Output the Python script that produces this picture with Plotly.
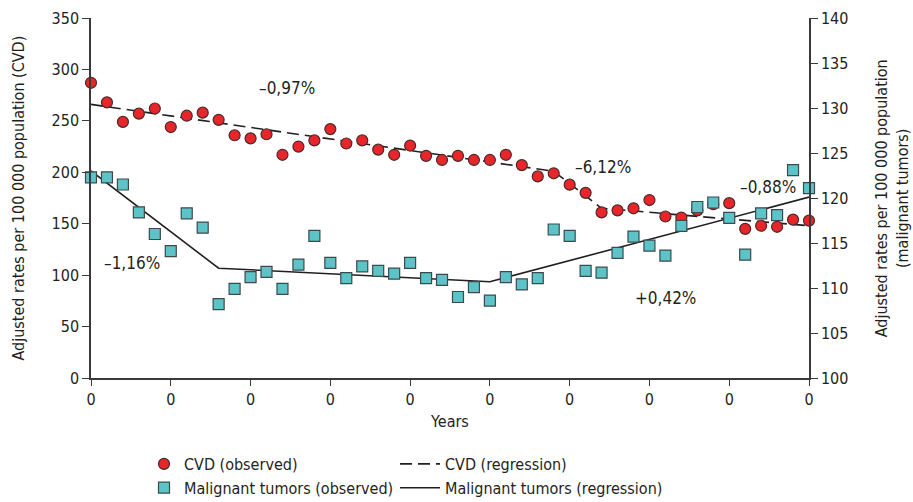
import plotly.graph_objects as go

years = list(range(46))
tick_vals = [0, 5, 10, 15, 20, 25, 30, 35, 40, 45]
tick_text = ["0"] * 10

cvd_obs = [287, 268, 249, 257, 262, 244, 255, 258, 251, 236,
           233, 237, 217, 225, 231, 242, 228, 231, 222, 217,
           226, 216, 212, 216, 212, 212, 217, 207, 196, 199,
           188, 180, 161, 163, 165, 173, 157, 156, 163, 169,
           170, 145, 148, 147, 154, 153]

mt_obs = [122.3, 122.3, 121.5, 118.4, 116.0, 114.1, 118.3, 116.7, 108.2, 109.9,
          111.2, 111.8, 109.9, 112.6, 115.8, 112.8, 111.1, 112.4, 111.9, 111.6,
          112.8, 111.1, 110.9, 109.0, 110.1, 108.6, 111.2, 110.4, 111.1, 116.5,
          115.8, 111.9, 111.7, 113.9, 115.7, 114.7, 113.6, 116.9, 119.0, 119.5,
          117.8, 113.7, 118.3, 118.1, 123.1, 121.1]

cvd_reg_x = [0, 29, 32, 45]
cvd_reg_y = [266, 201, 165, 148]

mt_reg_x = [0, 8, 25, 45]
mt_reg_y = [123.0, 112.2, 110.7, 120.1]

labels = ["–0,97%", "–6,12%", "–0,88%", "–1,16%", "+0,42%"]
label_x = [12.3, 32.1, 42.4, 2.6, 36.0]
label_y = [282, 205, 186, 112, 78]

FONT = "DejaVu Sans Condensed, Liberation Sans Narrow, sans-serif"
TXT = "#231f20"
AX = "#3a3a3a"

fig = go.Figure()
fig.add_trace(go.Scatter(
    x=cvd_reg_x, y=cvd_reg_y, mode="lines", name="CVD (regression)",
    line=dict(color="#231f20", width=1.6, dash="12px,6px"),
    cliponaxis=False, legend="legend2"))
fig.add_trace(go.Scatter(
    x=mt_reg_x, y=mt_reg_y, mode="lines", name="Malignant tumors (regression)",
    yaxis="y2",
    line=dict(color="#231f20", width=1.6),
    cliponaxis=False, legend="legend2"))
fig.add_trace(go.Scatter(
    x=years, y=cvd_obs, mode="markers", name="CVD (observed)",
    marker=dict(symbol="circle", size=11, color="#e8262a",
                line=dict(color="#4a2a2a", width=1.2)),
    cliponaxis=False, legend="legend"))
fig.add_trace(go.Scatter(
    x=years, y=mt_obs, mode="markers", name="Malignant tumors (observed)",
    yaxis="y2",
    marker=dict(symbol="square", size=11, color="#5cc4c8",
                line=dict(color="#3c4a4c", width=1.2)),
    cliponaxis=False, legend="legend"))

for t, xx, yy in zip(labels, label_x, label_y):
    fig.add_annotation(x=xx, y=yy, xref="x", yref="y", text=t, showarrow=False,
                       font=dict(size=17, color=TXT, family=FONT))

fig.add_annotation(x=-0.101, y=0.5, xref="paper", yref="paper",
                   xanchor="center", yanchor="middle",
                   text="Adjusted rates per 100 000 population (CVD)",
                   textangle=-90, showarrow=False,
                   font=dict(size=16, color=TXT, family=FONT))
fig.add_annotation(x=1.116, y=0.5, xref="paper", yref="paper",
                   xanchor="center", yanchor="middle",
                   text="Adjusted rates per 100 000 population<br>(malignant tumors)",
                   textangle=-90, showarrow=False,
                   font=dict(size=16, color=TXT, family=FONT))

fig.update_layout(
    template="none",
    width=913, height=502,
    margin=dict(l=91, r=104, t=18, b=124, autoexpand=False),
    plot_bgcolor="white", paper_bgcolor="white",
    font=dict(family=FONT, size=16, color=TXT),
    showlegend=True,
    xaxis=dict(range=[0, 45], tickvals=tick_vals, ticktext=tick_text,
               automargin=False,
               showgrid=False, zeroline=False, showline=True,
               linecolor=AX, linewidth=1.5, ticks="outside", ticklen=6,
               tickcolor=AX, tickwidth=1.2,
               title=dict(text="Years", standoff=8,
                          font=dict(size=16, color=TXT, family=FONT)),
               tickfont=dict(size=16, color=TXT, family=FONT)),
    yaxis=dict(range=[0, 350], tickvals=[0, 50, 100, 150, 200, 250, 300, 350],
               automargin=False,
               showgrid=False, zeroline=False, showline=True,
               linecolor=AX, linewidth=1.5, ticks="outside", ticklen=7,
               tickcolor=AX, tickwidth=1.2,
               tickfont=dict(size=16, color=TXT, family=FONT)),
    yaxis2=dict(range=[100, 140], tickvals=[100, 105, 110, 115, 120, 125, 130, 135, 140],
                automargin=False,
                overlaying="y", side="right",
                showgrid=False, zeroline=False, showline=True,
                linecolor=AX, linewidth=1.5, ticks="outside", ticklen=7,
                tickcolor=AX, tickwidth=1.2,
                tickfont=dict(size=16, color=TXT, family=FONT)),
    legend=dict(x=144 / 913, y=1 - 447 / 502, xref="container", yref="container",
                xanchor="left", yanchor="top",
                orientation="v", bgcolor="rgba(0,0,0,0)",
                font=dict(size=16, color=TXT, family=FONT),
                itemwidth=30, tracegroupgap=0, traceorder="normal"),
    legend2=dict(x=395 / 913, y=1 - 447 / 502, xref="container", yref="container",
                 xanchor="left", yanchor="top",
                 orientation="v", bgcolor="rgba(0,0,0,0)",
                 font=dict(size=16, color=TXT, family=FONT),
                 itemwidth=40, tracegroupgap=0, traceorder="normal"),
)

fig.write_html("out.html", config={"displayModeBar": False},
               post_script="document.body.style.margin='0';document.body.style.overflow='hidden';")
